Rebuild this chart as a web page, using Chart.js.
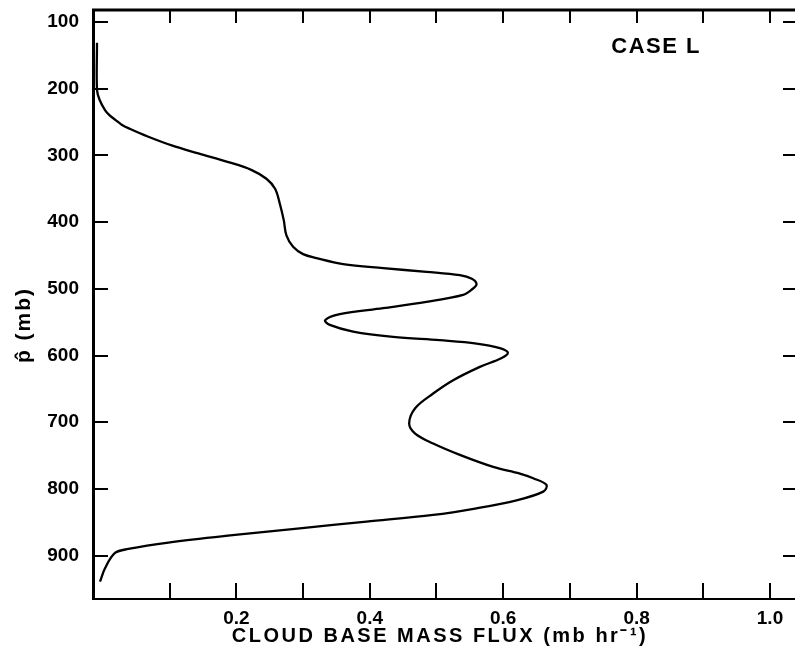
<!DOCTYPE html>
<html>
<head>
<meta charset="utf-8">
<script src="https://cdn.jsdelivr.net/npm/chart.js@4"></script>
<style>
  html, body { margin: 0; padding: 0; background: #fff; }
  #wrap { width: 795px; height: 655px; }
</style>
</head>
<body>
<div id="wrap"><canvas id="myChart"></canvas></div>
<script>
// cloud base mass flux profile (top to bottom along the curve)
const flux = [-0.009, -0.009, -0.005, 0.003, 0.010, 0.019, 0.028, 0.040, 0.068, 0.103,
  0.143, 0.188, 0.223, 0.245, 0.258, 0.265, 0.271, 0.275, 0.285, 0.300,
  0.320, 0.360, 0.420, 0.485, 0.535, 0.553, 0.560, 0.553, 0.540, 0.485,
  0.420, 0.355, 0.333, 0.340, 0.375, 0.435, 0.505, 0.560, 0.595, 0.607,
  0.597, 0.565, 0.525, 0.495, 0.468, 0.459, 0.468, 0.495, 0.535, 0.585,
  0.625, 0.645, 0.665, 0.660, 0.620, 0.560, 0.495, 0.395, 0.295, 0.198,
  0.098, 0.038, 0.018, 0.003, -0.0045];
const pressure = [131, 202, 217, 232, 240, 247, 254, 260, 272, 285,
  297, 310, 322, 335, 350, 372, 397, 420, 437, 448,
  454, 463, 469, 474.5, 479.5, 485, 493, 501, 509, 519.5,
  529, 538, 547, 554, 564, 572, 577, 582, 589, 596,
  604, 617, 637, 657, 679, 702, 717, 732, 749, 767,
  777, 784, 794, 804, 817, 829, 839, 849, 859, 869,
  880.5, 890, 896, 919, 939];

const xTicks = [0.1, 0.2, 0.3, 0.4, 0.5, 0.6, 0.7, 0.8, 0.9, 1.0];
const xLabels = [0.2, 0.4, 0.6, 0.8, 1.0];
const pTicks = [100, 200, 300, 400, 500, 600, 700, 800, 900];

const FONT = '"Liberation Sans", Arial, sans-serif';

// inward tick marks on all four sides, frame top, axis titles and the case label
const frame = {
  id: 'frame',
  afterDraw(chart) {
    const {ctx, chartArea: a, scales: {x, y}} = chart;
    ctx.save();
    ctx.strokeStyle = '#000';
    ctx.lineWidth = 2;
    xTicks.forEach(v => {
      const px = Math.round(x.getPixelForValue(v));
      ctx.beginPath();
      ctx.moveTo(px, a.bottom); ctx.lineTo(px, a.bottom - 16);
      ctx.moveTo(px, a.top); ctx.lineTo(px, a.top + 13);
      ctx.stroke();
    });
    pTicks.forEach(v => {
      const py = Math.round(y.getPixelForValue(v));
      ctx.beginPath();
      ctx.moveTo(a.left, py); ctx.lineTo(a.left + 15, py);
      ctx.moveTo(a.right, py); ctx.lineTo(a.right - 12, py);
      ctx.stroke();
    });
    ctx.lineWidth = 3;
    ctx.beginPath();
    ctx.moveTo(a.left - 1, a.top); ctx.lineTo(a.right, a.top);
    ctx.stroke();

    ctx.fillStyle = '#000';
    ctx.textBaseline = 'middle';
    ctx.textAlign = 'left';
    ctx.font = 'bold 22px ' + FONT;
    ctx.letterSpacing = '1.5px';
    ctx.fillText('CASE L', x.getPixelForValue(0.762), y.getPixelForValue(138));

    ctx.textAlign = 'center';
    ctx.font = 'bold 20px ' + FONT;
    ctx.letterSpacing = '2.5px';
    ctx.fillText('CLOUD BASE MASS FLUX (mb hr\u207B\u00B9)', 440, 636);

    ctx.translate(24, 325);
    ctx.rotate(-Math.PI / 2);
    ctx.font = 'bold 21px ' + FONT;
    ctx.letterSpacing = '2px';
    ctx.fillText('p\u0302 (mb)', 0, 0);
    ctx.restore();
  }
};

const ctx = document.getElementById('myChart').getContext('2d');

new Chart(ctx, {
  type: 'scatter',
  data: {
    datasets: [{
      label: 'Cloud base mass flux',
      data: flux.map((f, i) => ({x: f, y: pressure[i]})),
      showLine: true,
      borderColor: '#000',
      borderWidth: 2.3,
      pointRadius: 0,
      tension: 0.35,
      fill: false
    }]
  },
  options: {
    responsive: true,
    maintainAspectRatio: false,
    animation: false,
    layout: { padding: { top: 10, left: 0, right: 0, bottom: 0 } },
    plugins: {
      legend: { display: false },
      tooltip: { enabled: false }
    },
    scales: {
      x: {
        type: 'linear',
        min: -0.015,
        max: 1.0375,
        afterBuildTicks: s => { s.ticks = xTicks.map(v => ({value: v})); },
        afterFit: s => { s.height = 56; s.paddingLeft = 0; s.paddingRight = 0; },
        grid: { display: false },
        border: { display: true, color: '#000', width: 2 },
        ticks: {
          autoSkip: false,
          maxRotation: 0,
          padding: 0,
          color: '#000',
          font: { family: FONT, size: 19, weight: 'bold' },
          callback: v => xLabels.some(l => Math.abs(l - v) < 1e-6) ? v.toFixed(1) : ''
        }
      },
      y: {
        type: 'linear',
        reverse: true,
        min: 82,
        max: 965,
        afterBuildTicks: s => { s.ticks = pTicks.map(v => ({value: v})); },
        afterFit: s => { s.width = 93; s.paddingTop = 0; s.paddingBottom = 0; },
        grid: { display: false },
        border: { display: true, color: '#000', width: 3 },
        ticks: {
          autoSkip: false,
          padding: 6,
          color: '#000',
          font: { family: FONT, size: 19, weight: 'bold' }
        }
      }
    }
  },
  plugins: [frame]
});
</script>
</body>
</html>
